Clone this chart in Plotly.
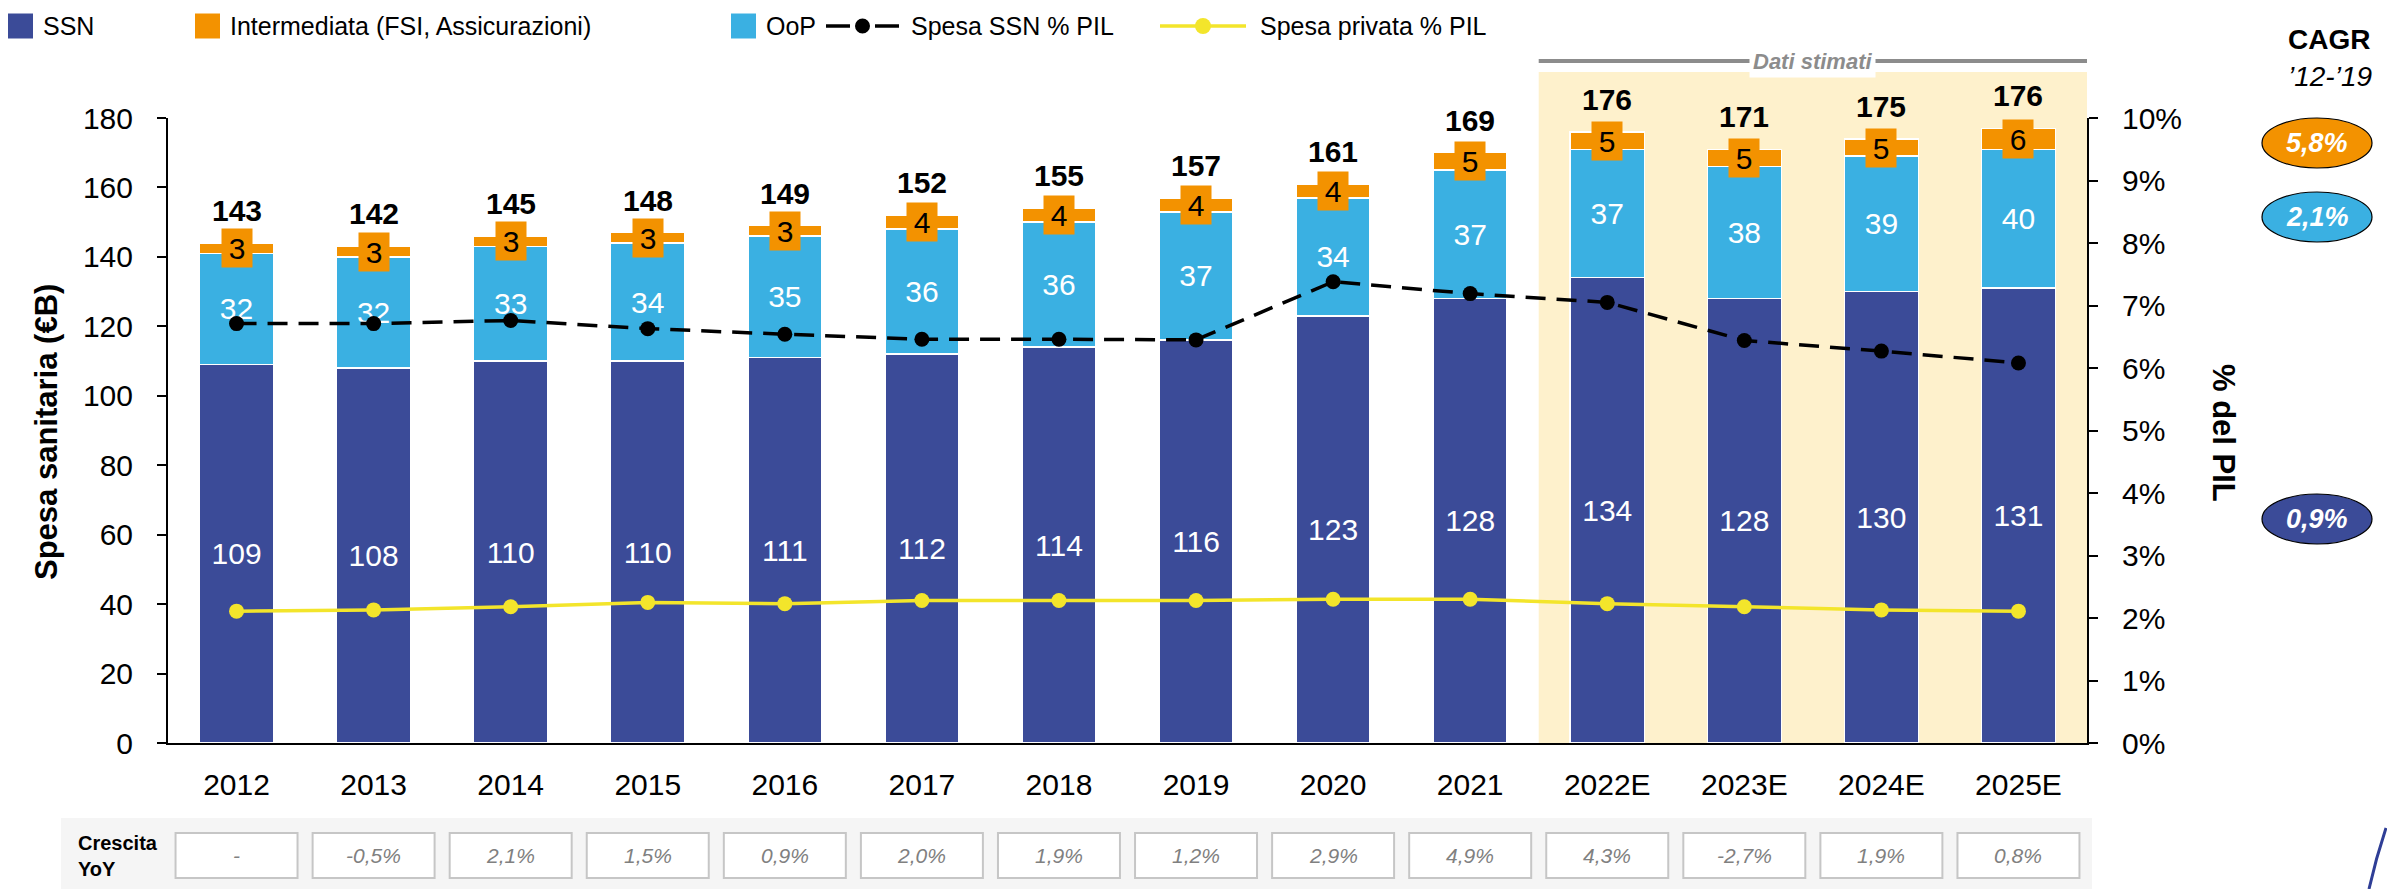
import plotly.graph_objects as go

# ---------------- data ----------------
years = ["2012", "2013", "2014", "2015", "2016", "2017", "2018", "2019",
         "2020", "2021", "2022E", "2023E", "2024E", "2025E"]
ssn = [109, 108, 110, 110, 111, 112, 114, 116, 123, 128, 134, 128, 130, 131]
oop = [32, 32, 33, 34, 35, 36, 36, 37, 34, 37, 37, 38, 39, 40]
intermediata = [3, 3, 3, 3, 3, 4, 4, 4, 4, 5, 5, 5, 5, 6]
totals = [143, 142, 145, 148, 149, 152, 155, 157, 161, 169, 176, 171, 175, 176]
ssn_pil = [0.0671, 0.0671, 0.0676, 0.0663, 0.0654, 0.0646, 0.0646, 0.0645,
           0.0738, 0.0719, 0.0705, 0.0644, 0.0627, 0.0608]
priv_pil = [0.0211, 0.0213, 0.0218, 0.0225, 0.0223, 0.0228, 0.0228, 0.0228,
            0.0230, 0.0230, 0.0223, 0.0218, 0.0213, 0.0211]
yoy = ["-", "-0,5%", "2,1%", "1,5%", "0,9%", "2,0%", "1,9%", "1,2%",
       "2,9%", "4,9%", "4,3%", "-2,7%", "1,9%", "0,8%"]
cagr_labels = ["5,8%", "2,1%", "0,9%"]
estimated_from = 10  # index of first estimated year

# ---------------- style ----------------
C_SSN = "#3B4B98"
C_OOP = "#3AB0E2"
C_INT = "#F39200"
C_YEL = "#F3E52B"
C_BG = "#FEF1CC"
FONT = "Liberation Sans, Arial, sans-serif"

W_FIG, H_FIG = 2387, 889
L, R, T, B = 168, 2087, 118, 743


def px(x):
    return (x - L) / (R - L)


def py(y):
    return (B - y) / (B - T)


def ann(**kw):
    d = dict(showarrow=False, xanchor="center", yanchor="middle")
    d.update(kw)
    return d


fig = go.Figure()

fig.add_trace(go.Bar(x=years, y=ssn, name="SSN", marker=dict(color=C_SSN, line=dict(color="white", width=1.5)),
                     text=ssn, textposition="inside", insidetextanchor="middle", textangle=0,
                     textfont=dict(color="white", size=30, family=FONT), width=0.54, showlegend=False))
fig.add_trace(go.Bar(x=years, y=oop, name="OoP", marker=dict(color=C_OOP, line=dict(color="white", width=1.5)),
                     text=oop, textposition="inside", insidetextanchor="middle", textangle=0,
                     textfont=dict(color="white", size=30, family=FONT), width=0.54, showlegend=False))
fig.add_trace(go.Bar(x=years, y=intermediata, name="Intermediata (FSI, Assicurazioni)",
                     marker=dict(color=C_INT, line=dict(color="white", width=1.5)),
                     width=0.54, showlegend=False, textposition="none"))

fig.add_trace(go.Scatter(x=years, y=ssn_pil, yaxis="y2", mode="lines+markers", name="Spesa SSN % PIL",
                         line=dict(color="black", width=3.5, dash="20px,11px"),
                         marker=dict(color="black", size=15), showlegend=False))
fig.add_trace(go.Scatter(x=years, y=priv_pil, yaxis="y2", mode="lines+markers", name="Spesa privata % PIL",
                         line=dict(color=C_YEL, width=3.5),
                         marker=dict(color=C_YEL, size=15), showlegend=False))

shapes = []
annotations = []

# estimated area background + header
shapes.append(dict(type="rect", xref="x", yref="paper", x0=estimated_from - 0.5, x1=len(years) - 0.5,
                   y0=0, y1=py(72), fillcolor=C_BG, line=dict(width=0), layer="below"))
shapes.append(dict(type="line", xref="x", yref="paper", x0=estimated_from - 0.5, x1=len(years) - 0.5,
                   y0=py(61), y1=py(61), line=dict(color="#8C8C8C", width=4), layer="above"))
annotations.append(ann(xref="x", yref="paper", x=(estimated_from - 0.5 + len(years) - 0.5) / 2, y=py(61),
                       text="<b><i>Dati stimati</i></b>", bgcolor="white",
                       font=dict(size=22, color="#8C8C8C", family=FONT), borderpad=3))

# labels: intermediata boxes + totals
for i in range(len(years)):
    top_mid = ssn[i] + oop[i] + intermediata[i] / 2
    annotations.append(ann(x=i, y=top_mid, xref="x", yref="y", text=str(intermediata[i]),
                           bgcolor=C_INT, width=30, height=38, borderpad=0,
                           font=dict(size=30, color="black", family=FONT)))
    annotations.append(ann(x=i, y=ssn[i] + oop[i] + intermediata[i], xref="x", yref="y",
                           text=f"<b>{totals[i]}</b>", yanchor="bottom", yshift=14,
                           font=dict(size=30, color="black", family=FONT)))

# axis titles
annotations.append(ann(xref="paper", yref="paper", x=px(46), y=py(432), text="<b>Spesa sanitaria (€B)</b>",
                       textangle=-90, font=dict(size=31, color="black", family=FONT)))
annotations.append(ann(xref="paper", yref="paper", x=px(2224), y=py(433), text="<b>% del PIL</b>",
                       textangle=90, font=dict(size=31, color="black", family=FONT)))

# CAGR panel
annotations.append(ann(xref="paper", yref="paper", x=px(2329), y=py(40), text="<b>CAGR</b>",
                       font=dict(size=28, color="black", family=FONT)))
annotations.append(ann(xref="paper", yref="paper", x=px(2330), y=py(77), text="<i>’12-’19</i>",
                       font=dict(size=28, color="black", family=FONT)))
for lab, col, yc in zip(cagr_labels, [C_INT, C_OOP, C_SSN], [143, 217, 519]):
    shapes.append(dict(type="circle", xref="paper", yref="paper", x0=px(2262), x1=px(2372),
                       y0=py(yc + 25), y1=py(yc - 25), fillcolor=col, line=dict(color="black", width=1.2)))
    annotations.append(ann(xref="paper", yref="paper", x=px(2317), y=py(yc), text=f"<b><i>{lab}</i></b>",
                           font=dict(size=27, color="white", family=FONT)))

# YoY growth table
shapes.append(dict(type="rect", xref="paper", yref="paper", x0=px(61), x1=px(2092), y0=py(889), y1=py(818),
                   fillcolor="#F5F5F5", line=dict(width=0), layer="below"))
annotations.append(ann(xref="paper", yref="paper", x=px(76), y=py(856), xanchor="left",
                       text="<b>Crescita<br>YoY</b>", align="left",
                       font=dict(size=20, color="black", family=FONT)))
for i, g in enumerate(yoy):
    shapes.append(dict(type="rect", xref="x", yref="paper", x0=i - 0.445, x1=i + 0.445, y0=py(878), y1=py(833),
                       fillcolor="white", line=dict(color="#C6C6C6", width=2)))
    annotations.append(ann(xref="x", yref="paper", x=i, y=py(855.5), text=f"<i>{g}</i>",
                           font=dict(size=21, color="#808080", family=FONT)))

# custom legend
ly = 26
for x0, col, lab in [(8, C_SSN, "SSN"), (195, C_INT, "Intermediata (FSI, Assicurazioni)"), (731, C_OOP, "OoP")]:
    shapes.append(dict(type="rect", xref="paper", yref="paper", x0=px(x0), x1=px(x0 + 25),
                       y0=py(ly + 12.5), y1=py(ly - 12.5), fillcolor=col, line=dict(width=0)))
    annotations.append(ann(xref="paper", yref="paper", x=px(x0 + 33), y=py(ly), xanchor="left", text=lab,
                           font=dict(size=25, color="black", family=FONT)))
# SSN % PIL legend
shapes.append(dict(type="line", xref="paper", yref="paper", x0=px(826), x1=px(850), y0=py(ly), y1=py(ly),
                   line=dict(color="black", width=3.5)))
shapes.append(dict(type="line", xref="paper", yref="paper", x0=px(875), x1=px(899), y0=py(ly), y1=py(ly),
                   line=dict(color="black", width=3.5)))
shapes.append(dict(type="circle", xref="paper", yref="paper", x0=px(855), x1=px(870), y0=py(ly + 7.5),
                   y1=py(ly - 7.5), fillcolor="black", line=dict(width=0)))
annotations.append(ann(xref="paper", yref="paper", x=px(909), y=py(ly), xanchor="left", text="Spesa SSN % PIL",
                       font=dict(size=25, color="black", family=FONT)))
# private % PIL legend
shapes.append(dict(type="line", xref="paper", yref="paper", x0=px(1160), x1=px(1246), y0=py(ly), y1=py(ly),
                   line=dict(color=C_YEL, width=3.5)))
shapes.append(dict(type="circle", xref="paper", yref="paper", x0=px(1195), x1=px(1211), y0=py(ly + 8),
                   y1=py(ly - 8), fillcolor=C_YEL, line=dict(width=0)))
annotations.append(ann(xref="paper", yref="paper", x=px(1258), y=py(ly), xanchor="left",
                       text="Spesa privata % PIL", font=dict(size=25, color="black", family=FONT)))

# decorative stroke bottom-right
shapes.append(dict(type="path", xref="paper", yref="paper",
                   path=f"M {px(2386)},{py(828)} Q {px(2376)},{py(858)} {px(2369)},{py(889)}",
                   line=dict(color="#2F3E96", width=3)))

fig.update_layout(
    width=W_FIG, height=H_FIG,
    margin=dict(l=L, r=W_FIG - R, t=T, b=H_FIG - B, autoexpand=False),
    barmode="stack", bargap=0.46,
    paper_bgcolor="white", plot_bgcolor="white",
    font=dict(family=FONT, color="black", size=30),
    showlegend=False,
    xaxis=dict(type="category", range=[-0.5, len(years) - 0.5], showline=True, linecolor="black", linewidth=2,
               ticks="", tickfont=dict(size=30, color="black", family=FONT), showgrid=False,
               ticklabelstandoff=14),
    yaxis=dict(range=[0, 180], dtick=20, showline=True, linecolor="black", linewidth=2, ticks="outside",
               ticklen=9, tickwidth=2, tickcolor="black", showgrid=False, zeroline=False,
               tickfont=dict(size=30, color="black", family=FONT), ticklabelstandoff=18),
    yaxis2=dict(range=[0, 0.10], dtick=0.01, tickformat=".0%", overlaying="y", side="right", showline=True,
                linecolor="black", linewidth=2, ticks="outside", ticklen=9, tickwidth=2, tickcolor="black",
                showgrid=False, zeroline=False, tickfont=dict(size=30, color="black", family=FONT),
                ticklabelstandoff=18),
    shapes=shapes,
    annotations=annotations,
)

fig.write_html("out.html", config={"displayModeBar": False},
               post_script="document.body.style.margin='0px';")
